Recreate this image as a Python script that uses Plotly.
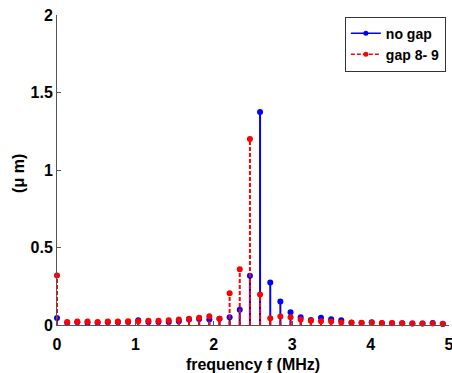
import plotly.graph_objects as go

freq = [0, 0.130, 0.259, 0.389, 0.518, 0.648, 0.777, 0.907, 1.036, 1.166,
        1.295, 1.425, 1.554, 1.684, 1.813, 1.943, 2.072, 2.202, 2.331, 2.461,
        2.590, 2.720, 2.849, 2.979, 3.108, 3.238, 3.367, 3.497, 3.626, 3.756,
        3.885, 4.015, 4.144, 4.274, 4.403, 4.533, 4.662, 4.792, 4.921]

no_gap = [0.045, 0.015, 0.018, 0.015, 0.015, 0.018, 0.018, 0.020, 0.030, 0.020,
          0.020, 0.020, 0.025, 0.035, 0.038, 0.035, 0.040, 0.050, 0.098, 0.317,
          1.375, 0.274, 0.152, 0.082, 0.050, 0.033, 0.046, 0.037, 0.031, 0.015,
          0.013, 0.018, 0.012, 0.011, 0.011, 0.010, 0.009, 0.013, 0.007]

gap_8_9 = [0.320, 0.020, 0.022, 0.022, 0.020, 0.022, 0.022, 0.025, 0.025, 0.027,
           0.028, 0.030, 0.035, 0.040, 0.046, 0.057, 0.040, 0.205, 0.360, 1.200,
           0.197, 0.044, 0.055, 0.050, 0.035, 0.027, 0.025, 0.023, 0.016, 0.016,
           0.014, 0.015, 0.013, 0.013, 0.012, 0.010, 0.010, 0.010, 0.008]

series = [("no gap", no_gap, "#0000ff", "solid"),
          ("gap 8- 9", gap_8_9, "#ff0000", "4px,2px")]

x_ticks = [0, 1, 2, 3, 4, 5]
y_ticks = [0, 0.5, 1, 1.5, 2]

fig = go.Figure()
for name, vals, color, dash in series:
    sx, sy = [], []
    for f, v in zip(freq, vals):
        sx += [f, f, None]
        sy += [0, v, None]
    fig.add_trace(go.Scatter(x=sx, y=sy, mode="lines", showlegend=False,
                             line=dict(color=color, width=2, dash=dash),
                             hoverinfo="skip", cliponaxis=False))
    fig.add_trace(go.Scatter(x=freq, y=vals, mode="markers", showlegend=False,
                             marker=dict(color=color, size=6),
                             cliponaxis=False))
    fig.add_trace(go.Scatter(x=[None], y=[None], mode="lines+markers", name=name,
                             line=dict(color=color, width=1.5, dash=dash),
                             marker=dict(color=color, size=5)))

fig.update_layout(
    width=452, height=373,
    margin=dict(l=57, r=3, t=15, b=48),
    paper_bgcolor="white", plot_bgcolor="white",
    font=dict(family="Liberation Sans, Arial, sans-serif", size=16,
              color="black", weight="bold"),
    legend=dict(x=0.992, y=0.995, xanchor="right", yanchor="top",
                bgcolor="white", bordercolor="#333", borderwidth=1,
                font=dict(size=14, weight="bold"), itemwidth=30,
                tracegroupgap=0),
    xaxis=dict(range=[0, 5], tickvals=x_ticks, ticks="inside", ticklen=4,
               tickcolor="#555", showline=True, linecolor="#555", linewidth=1,
               showgrid=False, zeroline=False, mirror=False, automargin=False,
               ticklabelstandoff=5, ticklabeloverflow="allow",
               title=dict(text="frequency f (MHz)", standoff=6,
                          font=dict(size=16, weight="bold"))),
    yaxis=dict(range=[0, 2], tickvals=y_ticks, ticks="inside", ticklen=4,
               tickcolor="#555", showline=True, linecolor="#555", linewidth=1,
               showgrid=False, zeroline=False, mirror=False, automargin=False,
               ticklabeloverflow="allow"),
    annotations=[dict(text="(μ m)", xref="paper", yref="paper",
                      x=-0.10, y=0.49, xanchor="center", yanchor="middle",
                      textangle=-90, showarrow=False,
                      font=dict(size=16, weight="bold"))],
)

fig.write_html("out.html")
